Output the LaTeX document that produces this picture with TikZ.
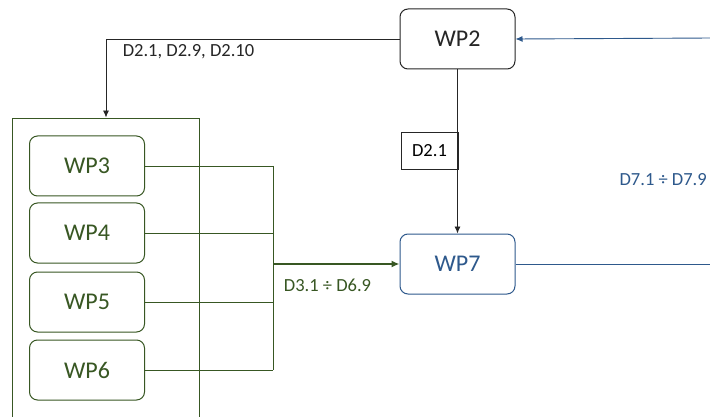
\documentclass[tikz,border=0pt]{standalone}
\usepackage{fontspec}
\setmainfont{Carlito}
\usetikzlibrary{arrows.meta}
\definecolor{wpgreen}{RGB}{56,87,35}
\definecolor{wpblue}{RGB}{46,89,140}
\definecolor{wpgray}{RGB}{38,38,38}
\begin{document}
\begin{tikzpicture}[x=1pt,y=-1pt]
        \tikzstyle{wp}=[rectangle,rounded corners=8pt,line width=1pt,minimum width=115pt,minimum height=60pt,inner sep=0pt,font=\fontsize{24}{28}\selectfont]
        \tikzstyle{wpg}=[wp,draw=wpgreen,text=wpgreen]
        \tikzstyle{lbl}=[inner sep=0pt,font=\fontsize{18.5}{22}\selectfont]
        \tikzstyle{blk}=[draw=wpgray,line width=0.9pt,-{Latex[length=7pt,width=6pt]}]
        \tikzstyle{grn}=[draw=wpgreen,line width=0.9pt]
        \tikzstyle{blu}=[draw=wpblue,line width=0.9pt]
        \useasboundingbox (0,0) rectangle (710,417);
        \clip (0,0) rectangle (710,417);
        \fill[white] (0,0) rectangle (710,417);
        \begin{scope}
           \node [wp,draw=wpgray,text=wpgray] (wp2) at (457.5,39) {WP2};
           \node [wp,draw=wpblue,text=wpblue] (wp7) at (457.5,264) {WP7};
           \node [draw=wpgreen,line width=0.9pt,minimum width=187pt,minimum height=312pt] (grp) at (106,274) {};
           \node [wpg] (wp3) at (87,166) {WP3};
           \node [wpg] (wp4) at (87,233) {WP4};
           \node [wpg] (wp5) at (87,302) {WP5};
           \node [wpg] (wp6) at (87,370) {WP6};
           \coordinate (bus) at (273,264);
           \coordinate (rt1) at (712,38);
           \coordinate (rt2) at (712,264);
           % deliverables from WP2
           \path[blk] (wp2.west) -| (grp.north);
           \node [lbl,text=wpgray] (d2a) at (188.5,52) {D2.1, D2.9, D2.10};
           \path[blk] (wp2.south) -- (wp7.north);
           \node [lbl,text=black,draw=wpgray,line width=0.9pt,minimum width=57pt,minimum height=37pt] (d2b) at (429.5,150.5) {D2.1};
           % WP3-WP6 to WP7
           \path[grn] (wp3.east) -- (wp3.east -| bus);
           \path[grn] (wp4.east) -- (wp4.east -| bus);
           \path[grn] (wp5.east) -- (wp5.east -| bus);
           \path[grn] (wp6.east) -- (wp6.east -| bus);
           \path[grn] (wp3.east -| bus) -- (wp6.east -| bus);
           \path[grn,line width=1.8pt,-{Latex[length=8pt,width=7pt]}] (bus) -- (wp7.west);
           \node [lbl,text=wpgreen] (d3) at (327.5,285) {D3.1 ÷ D6.9};
           % WP7 back to WP2
           \path[blu,-{Latex[length=7pt,width=6pt]}] (rt1) -- (wp2.east);
           \path[blu] (wp7.east) -- (rt2);
           \node [lbl,text=wpblue,anchor=east] (d7) at (707,180) {D7.1 ÷ D7.9};
        \end{scope}
      \end{tikzpicture}
\end{document}
